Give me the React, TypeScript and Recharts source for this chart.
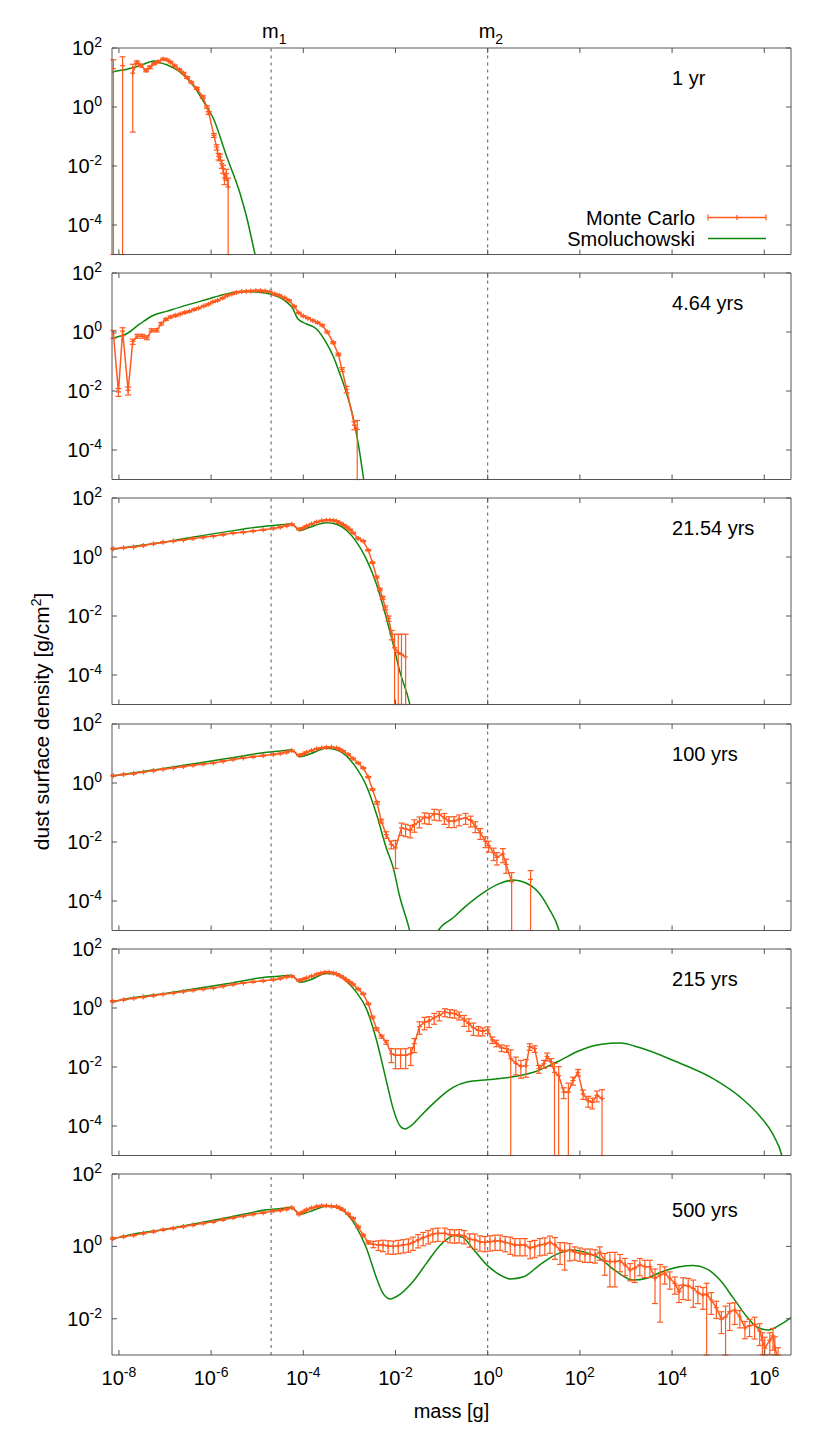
import React from "react";
import { ComposedChart, Line, XAxis, YAxis, ErrorBar, ReferenceLine, ReferenceDot } from "recharts";

const FONT = "'Liberation Sans', Arial, Helvetica, sans-serif";
const MC_COLOR = "#ff5a1f";
const SM_COLOR = "#0b870b";
const FRAME = "#555";

// mass axis (g), shared by all panels
const X_DOMAIN: [number, number] = [7.08e-9, 3.8e6];
const X_TICKS = [1e-8, 1e-6, 1e-4, 1e-2, 1, 1e2, 1e4, 1e6];
const M1 = 2e-5;
const M2 = 1;
const AGES = ["1 yr", "4.64 yrs", "21.54 yrs", "100 yrs", "215 yrs", "500 yrs"];

// Monte Carlo: [log10 mass, log10 density, relative error]; null = empty bin
type McRow = [number, number | null, number];
// Smoluchowski: [log10 mass, log10 density]
type SmRow = [number, number];

const mc1: McRow[] = [
  [-8.12, 1.3, 1], [-8.02, null, 0], [-7.92, 1.4, 1], [-7.81, null, 0], [-7.7, 1.15, 0.99],
  [-7.61, 1.52, 0.1], [-7.53, 1.41, 0.1], [-7.41, 1.24, 0.1], [-7.33, 1.35, 0.1], [-7.24, 1.47, 0.08],
  [-7.15, 1.53, 0.08], [-7.04, 1.63, 0.06], [-6.96, 1.6, 0.06], [-6.88, 1.52, 0.06], [-6.79, 1.4, 0.06],
  [-6.69, 1.27, 0.06], [-6.6, 1.15, 0.06], [-6.52, 1.0, 0.07], [-6.43, 0.84, 0.07], [-6.31, 0.63, 0.08],
  [-6.18, 0.34, 0.1], [-6.09, 0.0, 0.1], [-6.05, -0.2, 0.12], [-5.94, -0.96, 0.15], [-5.88, -1.36, 0.2],
  [-5.84, -1.67, 0.25], [-5.81, -1.7, 0.25], [-5.77, -1.92, 0.3], [-5.74, -2.09, 0.3], [-5.71, -2.41, 0.4],
  [-5.67, -2.26, 0.4], [-5.63, -2.71, 1],
];
const sm1: SmRow[] = [
  [-8.16, 1.17], [-8.12, 1.19], [-7.82, 1.28], [-7.53, 1.41], [-7.24, 1.56], [-7.1, 1.5], [-6.96, 1.43],
  [-6.67, 1.18], [-6.38, 0.72], [-6.17, 0.2], [-5.95, -0.39], [-5.66, -1.69], [-5.37, -2.94], [-5.23, -3.73],
  [-5.05, -4.97], [-5.0, -5.3],
];

const mc2: McRow[] = [
  [-8.12, -0.06, 0.3], [-8.01, -2.03, 0.3], [-7.92, 0.03, 0.3], [-7.8, -1.98, 0.3], [-7.7, -0.32, 0.2],
  [-7.6, -0.14, 0.15], [-7.49, -0.14, 0.15], [-7.39, -0.19, 0.15], [-7.29, 0.06, 0.12], [-7.18, 0.06, 0.12],
  [-7.08, 0.28, 0.1], [-6.98, 0.43, 0.08], [-6.88, 0.51, 0.08], [-6.77, 0.56, 0.08], [-6.67, 0.61, 0.06],
  [-6.57, 0.66, 0.06], [-6.47, 0.7, 0.06], [-6.37, 0.76, 0.06], [-6.27, 0.81, 0.05], [-6.16, 0.88, 0.05],
  [-6.06, 0.94, 0.05], [-5.96, 1.02, 0.05], [-5.86, 1.07, 0.05], [-5.75, 1.15, 0.05], [-5.65, 1.24, 0.05],
  [-5.55, 1.29, 0.05], [-5.45, 1.34, 0.05], [-5.34, 1.37, 0.05], [-5.24, 1.38, 0.05], [-5.14, 1.39, 0.05],
  [-5.03, 1.4, 0.05], [-4.93, 1.4, 0.05], [-4.83, 1.39, 0.05], [-4.73, 1.36, 0.05], [-4.62, 1.29, 0.05],
  [-4.52, 1.24, 0.05], [-4.41, 1.16, 0.05], [-4.31, 1.07, 0.05], [-4.2, 0.87, 0.05], [-4.1, 0.65, 0.05],
  [-4.0, 0.54, 0.05], [-3.9, 0.47, 0.05], [-3.79, 0.39, 0.05], [-3.69, 0.32, 0.06], [-3.59, 0.23, 0.06],
  [-3.48, 0.0, 0.07], [-3.35, -0.36, 0.08], [-3.24, -0.76, 0.1], [-3.16, -1.27, 0.15], [-3.06, -1.94, 0.25],
  [-2.89, -3.16, 0.3], [-2.83, -3.3, 1],
];
const sm2: SmRow[] = [
  [-8.16, -0.22], [-8.12, -0.2], [-7.83, -0.06], [-7.54, 0.28], [-7.26, 0.56], [-6.97, 0.7], [-6.53, 0.91],
  [-6.1, 1.1], [-5.67, 1.29], [-5.24, 1.37], [-4.95, 1.35], [-4.66, 1.26], [-4.38, 1.04], [-4.23, 0.8],
  [-4.12, 0.45], [-3.94, 0.28], [-3.72, 0.11], [-3.51, -0.34], [-3.36, -0.79], [-3.22, -1.36], [-3.07, -2.03],
  [-2.93, -2.82], [-2.79, -3.95], [-2.69, -5.0], [-2.66, -5.3],
];

const mc3: McRow[] = [
  [-8.12, 0.28, 0.04], [-7.9, 0.31, 0.04], [-7.68, 0.34, 0.04], [-7.47, 0.39, 0.04], [-7.25, 0.45, 0.04],
  [-7.04, 0.5, 0.04], [-6.82, 0.54, 0.04], [-6.6, 0.58, 0.04], [-6.39, 0.63, 0.04], [-6.17, 0.67, 0.04],
  [-5.95, 0.71, 0.04], [-5.74, 0.76, 0.04], [-5.52, 0.81, 0.04], [-5.3, 0.84, 0.04], [-5.09, 0.88, 0.04],
  [-4.87, 0.92, 0.04], [-4.65, 0.97, 0.04], [-4.5, 1.01, 0.04], [-4.36, 1.06, 0.04], [-4.25, 1.11, 0.04],
  [-4.09, 0.94, 0.04], [-4.01, 0.98, 0.04], [-3.93, 1.05, 0.04], [-3.82, 1.12, 0.04], [-3.71, 1.19, 0.04],
  [-3.6, 1.23, 0.04], [-3.5, 1.25, 0.04], [-3.42, 1.25, 0.04], [-3.35, 1.24, 0.04], [-3.28, 1.21, 0.04],
  [-3.21, 1.16, 0.04], [-3.13, 1.09, 0.04], [-3.06, 1.02, 0.04], [-2.99, 0.93, 0.04], [-2.92, 0.82, 0.04],
  [-2.81, 0.63, 0.05], [-2.7, 0.54, 0.05], [-2.59, 0.23, 0.05], [-2.5, -0.19, 0.06], [-2.41, -0.68, 0.08],
  [-2.34, -1.1, 0.1], [-2.28, -1.38, 0.12], [-2.22, -1.72, 0.15], [-2.15, -2.08, 0.2], [-2.08, -2.62, 0.35],
  [-2.02, -3.07, 1.8], [-1.94, -3.24, 3.2], [-1.87, -3.3, 3.8], [-1.78, -3.39, 4.9],
];
const sm3: SmRow[] = [
  [-8.16, 0.25], [-8.12, 0.26], [-6.96, 0.52], [-5.66, 0.86], [-4.79, 1.05], [-4.4, 1.1], [-4.28, 1.12],
  [-4.2, 1.06], [-4.07, 0.9], [-3.86, 1.01], [-3.5, 1.16], [-3.28, 1.11], [-3.06, 0.9], [-2.85, 0.52],
  [-2.63, -0.08], [-2.41, -0.93], [-2.2, -2.06], [-2.05, -2.96], [-1.91, -3.86], [-1.69, -4.99], [-1.65, -5.3],
];

const mc4: McRow[] = [
  [-8.12, 0.25, 0.04], [-7.9, 0.29, 0.04], [-7.68, 0.32, 0.04], [-7.47, 0.37, 0.04], [-7.25, 0.42, 0.04],
  [-7.04, 0.47, 0.04], [-6.82, 0.51, 0.04], [-6.6, 0.56, 0.04], [-6.39, 0.6, 0.04], [-6.17, 0.64, 0.04],
  [-5.95, 0.68, 0.04], [-5.74, 0.74, 0.04], [-5.52, 0.8, 0.04], [-5.3, 0.85, 0.04], [-5.09, 0.89, 0.04],
  [-4.87, 0.93, 0.04], [-4.65, 0.97, 0.04], [-4.5, 1.0, 0.04], [-4.36, 1.04, 0.04], [-4.25, 1.1, 0.04],
  [-4.09, 0.94, 0.04], [-4.01, 0.98, 0.04], [-3.93, 1.04, 0.04], [-3.82, 1.1, 0.04], [-3.71, 1.16, 0.04],
  [-3.6, 1.19, 0.04], [-3.5, 1.21, 0.04], [-3.39, 1.21, 0.04], [-3.28, 1.19, 0.04], [-3.21, 1.14, 0.04],
  [-3.14, 1.08, 0.04], [-3.03, 0.97, 0.04], [-2.92, 0.83, 0.04], [-2.81, 0.68, 0.05], [-2.7, 0.51, 0.05],
  [-2.59, 0.2, 0.05], [-2.5, -0.22, 0.06], [-2.4, -0.67, 0.1], [-2.31, -1.29, 0.15], [-2.2, -1.75, 0.25],
  [-2.09, -2.08, 0.3], [-2.0, -2.2, 0.8], [-1.87, -1.52, 0.45], [-1.78, -1.56, 0.45], [-1.68, -1.6, 0.45],
  [-1.59, -1.41, 0.45], [-1.48, -1.3, 0.4], [-1.37, -1.16, 0.4], [-1.27, -1.18, 0.4], [-1.16, -1.04, 0.4],
  [-1.05, -1.06, 0.4], [-0.94, -1.18, 0.4], [-0.84, -1.29, 0.4], [-0.73, -1.29, 0.4], [-0.62, -1.23, 0.4],
  [-0.48, -1.18, 0.4], [-0.37, -1.27, 0.4], [-0.27, -1.46, 0.4], [-0.16, -1.69, 0.4], [-0.05, -1.97, 0.4],
  [0.02, -2.12, 0.4], [0.13, -2.37, 0.45], [0.2, -2.52, 0.45], [0.33, -2.4, 0.5], [0.4, -2.76, 0.5],
  [0.52, -3.34, 1], [0.72, null, 0], [0.93, -3.27, 1],
];
const sm4: SmRow[] = [
  [-8.16, 0.23], [-8.12, 0.24], [-6.96, 0.51], [-5.66, 0.83], [-4.79, 1.04], [-4.4, 1.1], [-4.28, 1.13],
  [-4.2, 1.07], [-4.07, 0.89], [-3.86, 0.98], [-3.5, 1.18], [-3.28, 1.13], [-3.06, 0.91], [-2.85, 0.51],
  [-2.63, -0.1], [-2.41, -1.07], [-2.2, -2.2], [-2.05, -2.87], [-1.91, -3.84], [-1.69, -5.02], [-1.65, -5.3],
  [-1.15, -5.3], [-1.07, -5.0], [-0.75, -4.57], [-0.48, -4.18], [-0.05, -3.67], [0.24, -3.42], [0.56, -3.29],
  [0.82, -3.38], [1.11, -3.72], [1.32, -4.23], [1.55, -5.0], [1.6, -5.3],
];

const mc5: McRow[] = [
  [-8.13, 0.23, 0.04], [-7.9, 0.28, 0.04], [-7.68, 0.33, 0.04], [-7.47, 0.37, 0.04], [-7.25, 0.42, 0.04],
  [-7.04, 0.47, 0.04], [-6.82, 0.51, 0.04], [-6.6, 0.56, 0.04], [-6.39, 0.6, 0.04], [-6.17, 0.64, 0.04],
  [-5.95, 0.68, 0.04], [-5.74, 0.74, 0.04], [-5.52, 0.8, 0.04], [-5.3, 0.85, 0.04], [-5.09, 0.89, 0.04],
  [-4.87, 0.92, 0.04], [-4.65, 0.96, 0.04], [-4.5, 1.0, 0.04], [-4.36, 1.05, 0.04], [-4.25, 1.08, 0.04],
  [-4.09, 0.93, 0.04], [-4.01, 0.97, 0.04], [-3.93, 1.02, 0.04], [-3.82, 1.08, 0.04], [-3.71, 1.14, 0.04],
  [-3.62, 1.18, 0.04], [-3.53, 1.21, 0.04], [-3.44, 1.21, 0.04], [-3.35, 1.19, 0.04], [-3.28, 1.15, 0.04],
  [-3.21, 1.1, 0.04], [-3.13, 1.03, 0.04], [-3.06, 0.95, 0.04], [-2.99, 0.88, 0.04], [-2.92, 0.8, 0.04],
  [-2.81, 0.64, 0.05], [-2.7, 0.48, 0.05], [-2.59, 0.14, 0.06], [-2.5, -0.31, 0.08], [-2.41, -0.71, 0.1],
  [-2.3, -0.97, 0.12], [-2.2, -1.16, 0.15], [-2.09, -1.55, 0.5], [-2.0, -1.6, 0.65], [-1.89, -1.6, 0.65],
  [-1.78, -1.6, 0.65], [-1.67, -1.55, 0.6], [-1.59, -1.21, 0.5], [-1.48, -0.63, 0.45], [-1.37, -0.48, 0.45],
  [-1.27, -0.44, 0.4], [-1.16, -0.33, 0.4], [-1.05, -0.25, 0.35], [-0.93, -0.14, 0.3], [-0.82, -0.17, 0.3],
  [-0.72, -0.19, 0.3], [-0.62, -0.25, 0.3], [-0.51, -0.4, 0.4], [-0.41, -0.53, 0.45], [-0.31, -0.67, 0.45],
  [-0.2, -0.76, 0.35], [-0.11, -0.79, 0.3], [0.0, -0.74, 0.25], [0.1, -1.08, 0.25], [0.19, -1.19, 0.25],
  [0.3, -1.35, 0.25], [0.41, -1.38, 0.25], [0.5, -1.72, 1], [0.61, -1.87, 0.6], [0.72, -1.98, 0.6],
  [0.83, -1.95, 0.6], [0.91, -1.31, 0.25], [1.02, -1.38, 0.25], [1.11, -2.06, 0.3], [1.22, -1.89, 0.3],
  [1.29, -1.64, 0.3], [1.38, -1.83, 0.3], [1.45, -2.18, 1], [1.54, -2.29, 1], [1.65, -2.85, 0.4],
  [1.75, -2.85, 1], [1.85, -2.46, 0.3], [1.96, -2.18, 0.25], [2.07, -2.91, 0.35], [2.18, -3.14, 0.4],
  [2.27, -3.2, 0.4], [2.37, -2.96, 0.4], [2.48, -3.07, 1],
];
const sm5: SmRow[] = [
  [-8.16, 0.18], [-8.13, 0.2], [-6.96, 0.5], [-5.66, 0.82], [-4.79, 1.05], [-4.4, 1.09], [-4.28, 1.11],
  [-4.2, 1.05], [-4.07, 0.87], [-3.86, 0.95], [-3.5, 1.17], [-3.28, 1.14], [-3.06, 0.9], [-2.85, 0.54],
  [-2.63, -0.03], [-2.41, -1.1], [-2.2, -2.46], [-2.05, -3.42], [-1.91, -3.98], [-1.8, -4.1], [-1.65, -3.98],
  [-1.48, -3.7], [-1.19, -3.25], [-1.03, -3.02], [-0.9, -2.85], [-0.74, -2.68], [-0.45, -2.51], [0.0, -2.43],
  [0.48, -2.35], [0.99, -2.18], [1.49, -1.84], [2.0, -1.44], [2.44, -1.24], [2.87, -1.19], [3.31, -1.35],
  [4.03, -1.78], [4.9, -2.4], [5.48, -3.02], [5.91, -3.68], [6.2, -4.32], [6.38, -5.0], [6.42, -5.3],
];

const mc6: McRow[] = [
  [-8.13, 0.22, 0.04], [-7.9, 0.27, 0.04], [-7.68, 0.31, 0.04], [-7.47, 0.36, 0.04], [-7.25, 0.41, 0.04],
  [-7.04, 0.46, 0.04], [-6.82, 0.5, 0.04], [-6.6, 0.55, 0.04], [-6.39, 0.59, 0.04], [-6.17, 0.64, 0.04],
  [-5.95, 0.68, 0.04], [-5.74, 0.74, 0.04], [-5.52, 0.79, 0.04], [-5.3, 0.84, 0.04], [-5.09, 0.89, 0.04],
  [-4.87, 0.93, 0.04], [-4.65, 0.98, 0.04], [-4.5, 1.0, 0.04], [-4.36, 1.03, 0.04], [-4.25, 1.07, 0.04],
  [-4.09, 0.89, 0.04], [-4.01, 0.95, 0.04], [-3.93, 1.01, 0.04], [-3.82, 1.06, 0.04], [-3.71, 1.1, 0.04],
  [-3.6, 1.12, 0.04], [-3.5, 1.12, 0.04], [-3.39, 1.11, 0.04], [-3.28, 1.1, 0.04], [-3.21, 1.06, 0.04],
  [-3.14, 1.01, 0.04], [-3.03, 0.9, 0.04], [-2.92, 0.78, 0.04], [-2.81, 0.54, 0.05], [-2.7, 0.31, 0.06],
  [-2.59, 0.11, 0.1], [-2.48, 0.06, 0.2], [-2.37, 0.04, 0.3], [-2.27, 0.04, 0.35], [-2.16, 0.01, 0.4],
  [-2.05, 0.0, 0.4], [-1.94, 0.02, 0.4], [-1.83, 0.04, 0.4], [-1.72, 0.06, 0.4], [-1.62, 0.11, 0.4],
  [-1.51, 0.18, 0.4], [-1.4, 0.24, 0.4], [-1.29, 0.29, 0.4], [-1.19, 0.34, 0.4], [-1.08, 0.36, 0.4],
  [-0.93, 0.36, 0.4], [-0.82, 0.32, 0.4], [-0.72, 0.31, 0.4], [-0.62, 0.32, 0.4], [-0.51, 0.29, 0.4],
  [-0.39, 0.2, 0.4], [-0.28, 0.18, 0.45], [-0.17, 0.13, 0.45], [-0.06, 0.11, 0.45], [0.05, 0.13, 0.45],
  [0.16, 0.15, 0.45], [0.27, 0.15, 0.45], [0.38, 0.11, 0.45], [0.49, 0.08, 0.5], [0.59, 0.04, 0.5],
  [0.7, 0.04, 0.5], [0.81, 0.04, 0.5], [0.92, -0.04, 0.5], [1.02, -0.01, 0.5], [1.13, 0.04, 0.5],
  [1.24, 0.06, 0.5], [1.35, 0.11, 0.5], [1.46, 0.04, 0.6], [1.57, -0.1, 0.6], [1.67, -0.13, 0.7],
  [1.78, -0.1, 0.5], [1.89, -0.16, 0.4], [2.0, -0.19, 0.4], [2.11, -0.22, 0.4], [2.22, -0.22, 0.4],
  [2.33, -0.24, 0.4], [2.43, -0.16, 0.4], [2.54, -0.4, 0.6], [2.65, -0.42, 0.8], [2.76, -0.42, 0.8],
  [2.87, -0.4, 0.5], [2.98, -0.51, 0.5], [3.09, -0.65, 0.5], [3.19, -0.6, 0.6], [3.3, -0.51, 0.5],
  [3.41, -0.56, 0.5], [3.52, -0.56, 0.5], [3.63, -0.88, 0.8], [3.74, -0.79, 0.95], [3.84, -0.74, 0.5],
  [3.95, -0.88, 0.5], [4.06, -1.02, 0.5], [4.15, -1.25, 0.5], [4.24, -1.07, 0.6], [4.35, -1.09, 0.6],
  [4.46, -1.16, 0.7], [4.56, -1.28, 0.5], [4.67, -1.34, 0.6], [4.75, -1.32, 1], [4.85, -1.48, 0.6],
  [4.96, -1.69, 0.5], [5.07, -2.01, 0.6], [5.16, -1.95, 1], [5.25, -1.8, 0.7], [5.36, -1.76, 0.6],
  [5.47, -1.95, 0.5], [5.58, -2.25, 0.5], [5.68, -2.19, 0.5], [5.79, -2.16, 0.6], [5.9, -2.34, 0.6],
  [5.96, -2.59, 0.6], [6.01, -2.81, 1], [6.12, -2.59, 0.6], [6.19, -2.47, 0.6], [6.23, -2.8, 1],
  [6.3, -3.1, 1],
];
const sm6: SmRow[] = [
  [-8.16, 0.18], [-8.13, 0.2], [-6.96, 0.48], [-5.66, 0.79], [-4.79, 1.01], [-4.4, 1.06], [-4.28, 1.08],
  [-4.2, 1.03], [-4.07, 0.89], [-3.86, 0.96], [-3.5, 1.11], [-3.28, 1.09], [-3.06, 0.91], [-2.85, 0.54],
  [-2.63, -0.05], [-2.41, -0.88], [-2.27, -1.3], [-2.12, -1.45], [-1.91, -1.33], [-1.62, -0.97], [-1.33, -0.47],
  [-1.04, 0.02], [-0.86, 0.22], [-0.74, 0.3], [-0.54, 0.25], [-0.33, -0.05], [-0.02, -0.51], [0.27, -0.79],
  [0.49, -0.9], [0.78, -0.84], [1.13, -0.51], [1.49, -0.22], [1.86, -0.1], [2.07, -0.15], [2.43, -0.33],
  [2.8, -0.7], [3.16, -0.93], [3.45, -0.88], [3.74, -0.72], [4.17, -0.56], [4.46, -0.53], [4.75, -0.62],
  [5.04, -0.93], [5.33, -1.43], [5.62, -1.94], [5.83, -2.22], [6.09, -2.31], [6.34, -2.17], [6.6, -1.95],
];

const MC_SETS = [mc1, mc2, mc3, mc4, mc5, mc6];
const SM_SETS = [sm1, sm2, sm3, sm4, sm5, sm6];

// layout of the six stacked frames
const PLOT_LEFT = 112;
const PLOT_RIGHT = 791;
const PANEL_TOPS = [47.7, 273, 498.3, 723.5, 948.5, 1174];
const PANEL_H = [206.5, 206.5, 206.5, 206.5, 206.5, 181];
const Y_MIN = [1e-5, 1e-5, 1e-5, 1e-5, 1e-5, 1e-3];
const Y_TICKS_FULL = [1e2, 1, 1e-2, 1e-4];
const Y_TICKS_LAST = [1e2, 1, 1e-2];
const TICK = 5;

const toMc = (rows: McRow[], yMin: number) =>
  rows.map(([lm, ly, f]) => {
    const x = 10 ** lm;
    if (ly === null) return { x, y: null, err: null };
    const y = 10 ** ly;
    const lo = Math.max(yMin, y * (1 - f));
    return { x, y, err: [y - lo, y * f] };
  });

const toSm = (rows: SmRow[]) => rows.map(([lm, ly]) => ({ x: 10 ** lm, y: 10 ** ly }));

const expOf = (v: number) => String(Math.round(Math.log10(v)));

function Pow({ x, y, exp, anchor }: { x: number; y: number; exp: string; anchor: "start" | "middle" | "end" }) {
  return (
    <text x={x} y={y} textAnchor={anchor} fontFamily={FONT} fontSize={20} fill="#000">
      10
      <tspan dy={-8} fontSize={14}>
        {exp}
      </tspan>
    </text>
  );
}

// axes are 1px thick so the chart keeps them; the tick anchor sits on the frame
const XTickBottom = (showLabel: boolean) => (p: any) => (
  <g>
    <line x1={p.x} x2={p.x} y1={p.y} y2={p.y - TICK} stroke={FRAME} />
    {showLabel && <Pow x={p.x} y={p.y + 30} exp={expOf(p.payload.value)} anchor="middle" />}
  </g>
);
const XTickTop = (p: any) => <line x1={p.x} x2={p.x} y1={p.y} y2={p.y + TICK} stroke={FRAME} />;
const YTickLeft = (p: any) => (
  <g>
    <line x1={p.x} x2={p.x + TICK} y1={p.y} y2={p.y} stroke={FRAME} />
    <Pow x={p.x - 10} y={p.y + 7} exp={expOf(p.payload.value)} anchor="end" />
  </g>
);
const YTickRight = (p: any) => <line x1={p.x} x2={p.x - TICK} y1={p.y} y2={p.y} stroke={FRAME} />;

const PlusDot = (p: any) => {
  if (p.cx == null || p.cy == null || p.payload?.y == null) return <g key={`d-${p.index}`} />;
  return (
    <path
      key={`d-${p.index}`}
      d={`M${p.cx - 2.5},${p.cy}h5M${p.cx},${p.cy - 2.5}v5`}
      stroke={MC_COLOR}
      strokeWidth={1.2}
    />
  );
};

function MassLabel({ viewBox, sub }: any) {
  if (!viewBox) return null;
  return (
    <text x={viewBox.x - 9} y={viewBox.y - 10} fontFamily={FONT} fontSize={20} fill="#000">
      m
      <tspan dy={6} fontSize={14}>
        {sub}
      </tspan>
    </text>
  );
}

function AgeLabel({ viewBox, text }: any) {
  if (!viewBox) return null;
  return (
    <text x={viewBox.x} y={viewBox.y + 7} fontFamily={FONT} fontSize={20} fill="#000">
      {text}
    </text>
  );
}

function Panel({ i }: { i: number }) {
  const last = i === 5;
  const mt = 30;
  const mb = last ? 45 : 30;
  const yMin = Y_MIN[i];
  const mc = toMc(MC_SETS[i], yMin);
  const sm = toSm(SM_SETS[i]);
  const yTicks = last ? Y_TICKS_LAST : Y_TICKS_FULL;
  const axisCommon = {
    type: "number" as const,
    scale: "log" as const,
    allowDataOverflow: true,
    tickSize: 0,
    tickMargin: 0,
    tickLine: false,
    axisLine: { stroke: FRAME },
  };
  return (
    <div style={{ position: "absolute", left: 0, top: PANEL_TOPS[i] - mt }}>
      <ComposedChart
        width={830}
        height={PANEL_H[i] + mt + mb}
        margin={{ top: mt - 1, right: 830 - PLOT_RIGHT - 1, bottom: mb - 1, left: PLOT_LEFT - 1 }}
      >
        <XAxis {...axisCommon} dataKey="x" domain={X_DOMAIN} ticks={X_TICKS} height={1} tick={XTickBottom(last)} />
        <XAxis
          {...axisCommon}
          xAxisId="t"
          orientation="top"
          dataKey="x"
          domain={X_DOMAIN}
          ticks={X_TICKS}
          height={1}
          tick={XTickTop}
        />
        <YAxis {...axisCommon} domain={[yMin, 100]} ticks={yTicks} width={1} tick={YTickLeft} />
        <YAxis
          {...axisCommon}
          yAxisId="r"
          orientation="right"
          domain={[yMin, 100]}
          ticks={yTicks}
          width={1}
          tick={YTickRight}
        />
        <ReferenceLine
          x={M1}
          stroke={FRAME}
          strokeDasharray="3 4"
          label={i === 0 ? <MassLabel sub="1" /> : undefined}
        />
        <ReferenceLine
          x={M2}
          stroke={FRAME}
          strokeDasharray="3 4"
          label={i === 0 ? <MassLabel sub="2" /> : undefined}
        />
        <ReferenceDot x={1e4} y={10} r={0} fill="none" stroke="none" label={<AgeLabel text={AGES[i]} />} />
        <Line
          data={sm}
          dataKey="y"
          type="monotone"
          stroke={SM_COLOR}
          strokeWidth={1.5}
          dot={false}
          isAnimationActive={false}
        />
        <Line
          data={mc}
          dataKey="y"
          type="linear"
          stroke={MC_COLOR}
          strokeWidth={1.5}
          dot={PlusDot}
          activeDot={false}
          connectNulls={false}
          isAnimationActive={false}
        >
          <ErrorBar dataKey="err" direction="y" width={3} stroke={MC_COLOR} strokeWidth={1.2} />
        </Line>
      </ComposedChart>
    </div>
  );
}

export default function App() {
  const lastBottom = PANEL_TOPS[5] + PANEL_H[5];
  const midY = (PANEL_TOPS[0] + lastBottom) / 2;
  return (
    <div
      style={{
        position: "absolute",
        left: 0,
        top: 0,
        width: 830,
        height: 1453,
        background: "#fff",
        overflow: "hidden",
      }}
    >
      {PANEL_TOPS.map((_, i) => (
        <Panel key={i} i={i} />
      ))}
      <svg
        width={830}
        height={1453}
        style={{ position: "absolute", left: 0, top: 0, pointerEvents: "none" }}
      >
        {/* legend */}
        <text x={695} y={225} textAnchor="end" fontFamily={FONT} fontSize={20} fill="#000">
          Monte Carlo
        </text>
        <text x={695} y={246} textAnchor="end" fontFamily={FONT} fontSize={20} fill="#000">
          Smoluchowski
        </text>
        <g stroke={MC_COLOR} strokeWidth={1.5}>
          <line x1={708} x2={766} y1={217.5} y2={217.5} />
          <line x1={708} x2={708} y1={214.5} y2={220.5} strokeWidth={1.2} />
          <line x1={766} x2={766} y1={214.5} y2={220.5} strokeWidth={1.2} />
          <line x1={737} x2={737} y1={215} y2={220} strokeWidth={1.2} />
        </g>
        <line x1={708} x2={766} y1={238.5} y2={238.5} stroke={SM_COLOR} strokeWidth={1.5} />
        {/* axis titles */}
        <text
          x={(PLOT_LEFT + PLOT_RIGHT) / 2}
          y={lastBottom + 63}
          textAnchor="middle"
          fontFamily={FONT}
          fontSize={20}
          fill="#000"
        >
          mass [g]
        </text>
        <text
          transform={`translate(49, ${midY + 20}) rotate(-90)`}
          textAnchor="middle"
          fontFamily={FONT}
          fontSize={21}
          fill="#000"
        >
          dust surface density [g/cm
          <tspan dy={-8} fontSize={14}>
            2
          </tspan>
          <tspan dy={8}>]</tspan>
        </text>
      </svg>
    </div>
  );
}
